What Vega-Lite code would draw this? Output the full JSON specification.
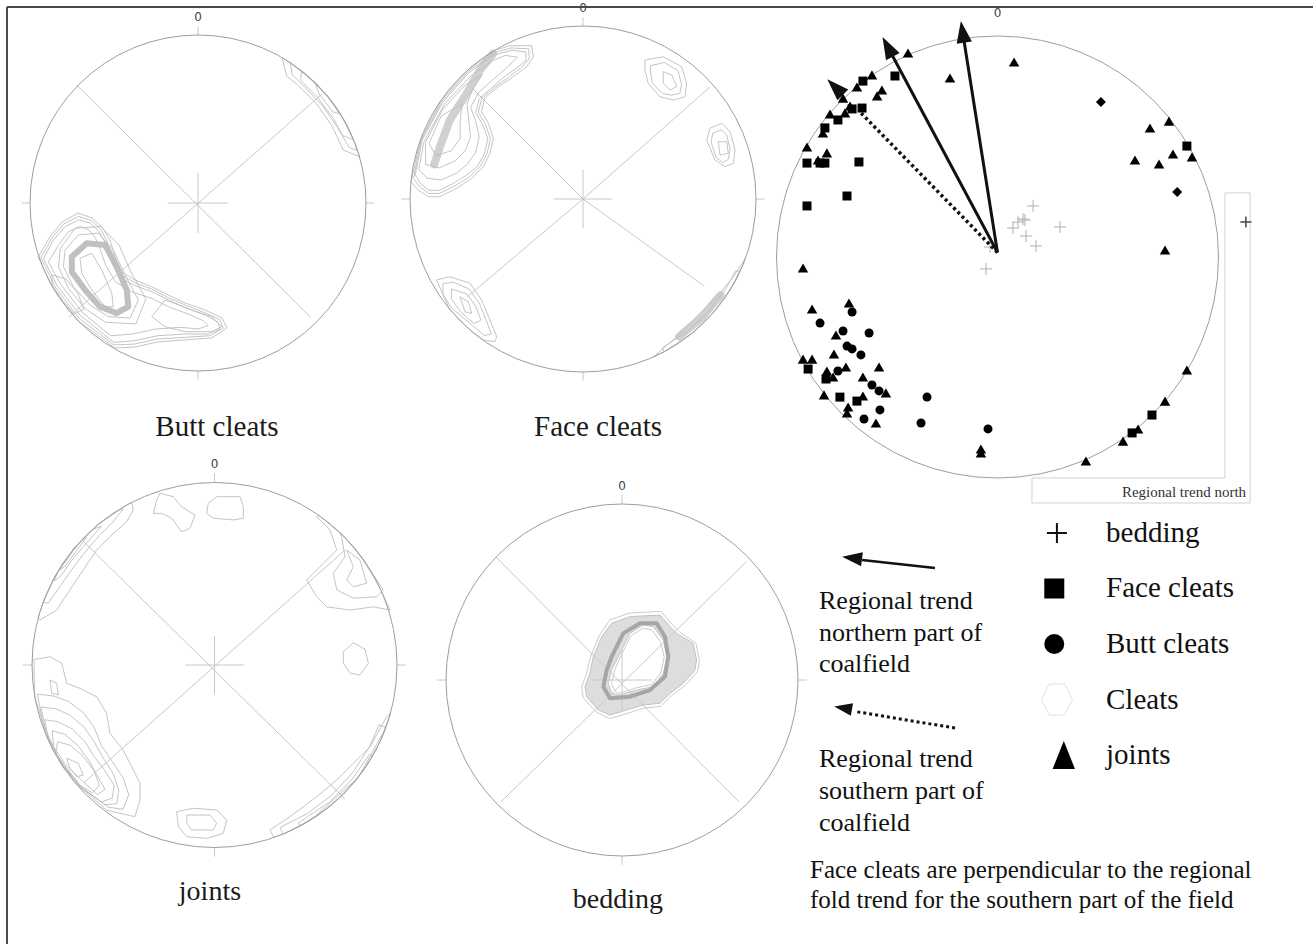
{
"$schema": "https://vega.github.io/schema/vega-lite/v6.json",
"padding": 0,
"background": "#ffffff",
"columns": 3,
"spacing": 0,
"bounds": "flush",
"align": "each",
"config": {"view": {"stroke": null}},
"datasets": {
"contours": [
{"panel":"butt","style":"band","c":"b0","x":[-75.1,-66.2,-55.3,-48.4,-42.4,-41.5,-48.4,-58.3,-67.2,-75.1,-75.1],"y":[-32,-24,-25,-37.9,-51.8,-61.7,-65.6,-61.7,-51.8,-40.9,-32]},
{"panel":"butt","style":"thin","c":"b1","x":[-95.2,-88.1,-80.9,-71.4,-63.1,-57.1,-52.4,-49.4,-45.2,-37.5,-27.4,-17.9,-7.7,4.2,14.3,17.3,8.3,-7.7,-23.8,-37.5,-49.4,-71.4,-86.3,-95.2],"y":[-32.1,-20.2,-11.3,-6,-8.9,-14.3,-22,-32.1,-41.1,-45.8,-50,-54.7,-59.5,-63.7,-68.4,-74.4,-80.3,-81.5,-82.7,-85.7,-86.3,-70.2,-50.6,-32.1]},
{"panel":"butt","style":"thin","c":"b12","x":[-93.5,-87,-80,-71,-63.5,-58,-54,-51,-46,-37.5,-27,-17.5,-7,4.5,13,15,7,-8,-24,-38,-50,-71,-85,-93.5],"y":[-32.5,-21,-12.5,-8,-10.5,-15.5,-23,-33,-42.5,-47.5,-51.5,-56.5,-61,-65.5,-69.5,-74.5,-79,-80,-81,-84,-84.5,-68.5,-50,-32.5]},
{"panel":"butt","style":"thin","c":"b2","x":[-92,-86,-79,-71,-64,-59,-55,-52,-47,-38,-27,-17,-6,5,12,13,6,-8,-24,-38,-50,-70,-84,-92],"y":[-33,-22,-14,-10,-12,-17,-24,-34,-44,-49,-53,-58,-63,-67,-71,-75,-78,-78,-79,-82,-83,-67,-49,-33]},
{"panel":"butt","style":"thin","c":"b3","x":[-89,-83,-77,-70,-65,-61,-58,-55,-49,-39,-27,-17,-6,3,6,0,-10,-25,-39,-52,-69,-82,-89],"y":[-35,-25,-17,-14,-16,-21,-28,-37,-47,-53,-57,-62,-66,-70,-73,-75,-74,-75,-78,-79,-65,-48,-35]},
{"panel":"butt","style":"thin","c":"b11","x":[-82,-73,-58,-47,-40,-31,-37,-55,-67,-77,-83,-82],"y":[-27,-15,-14,-25,-41,-57,-72,-71,-63,-51,-38,-27]},
{"panel":"butt","style":"thin","c":"b4","x":[-79.1,-71.2,-59.3,-50.4,-43.4,-35.5,-40.5,-53.4,-64.3,-74.2,-80.1,-79.1],"y":[-28,-19,-18,-28,-42.8,-57.7,-68.6,-67.6,-60.7,-49.8,-37.9,-28]},
{"panel":"butt","style":"thin","c":"b5","x":[-70.2,-63.2,-57.3,-51.3,-50.4,-55.3,-63.2,-69.2,-70.2],"y":[-32.9,-29.9,-39.9,-53.7,-61.7,-61.7,-51.8,-41.8,-32.9]},
{"panel":"butt","style":"thin","c":"b6","x":[-86.9,-78.5,-71.4,-67.8,-73.8,-80.9,-86.9,-86.9],"y":[-42.8,-45.2,-54.1,-63.1,-66,-57.7,-48.8,-42.8]},
{"panel":"butt","style":"thin","c":"b7","x":[-19.6,-3.7,8.2,14.1,8.2,-7.7,-19.6,-27.5,-19.6],"y":[-57.7,-63.7,-67.7,-73.6,-76.6,-76.6,-73.6,-67.7,-57.7]},
{"panel":"butt","style":"thin","c":"b8","x":[50,64.3,76.6,86.6,94,96.1,86.5,79.7,70.5,59.1,52.8,50],"y":[86.6,76.6,64.3,50,34.2,27.6,31.5,46,59.1,70.5,75.4,86.6]},
{"panel":"butt","style":"thin","c":"b13","x":[55,70,82,90,95,90,83,74,64,56,55],"y":[83.5,71.4,57.4,43.6,31.2,33,45,58,68.5,76.5,83.5]},
{"panel":"butt","style":"thin","c":"b9","x":[61.6,76.6,86.6,92.7,86.1,80.6,70.6,61.1,61.6],"y":[78.8,64.3,50,37.5,40.1,50.3,63.6,72.8,78.8]},
{"panel":"butt","style":"thin","c":"b10","x":[69.5,78.8,84.8,80.4,72.1,69.5],"y":[71.9,61.6,53,54.2,64.9,71.9]},

{"panel":"face","style":"band","c":"f0","x":[-52,-59.5,-67.2,-76.9,-82.7,-86],"y":[84,74.6,61.1,45.7,30.2,20]},
{"panel":"face","style":"band","c":"f0b","x":[55.6,68.6,79.5],"y":[-79.5,-68.6,-55.6]},
{"panel":"face","style":"thin","c":"f1","x":[-42.2,-29.7,-28.7,-32.5,-40.3,-49,-56.9,-58.6,-54.7,-51.8,-53.8,-57.6,-64.3,-73,-82.7,-89.4,-95.2,-99.4,-94,-82,-66.6,-50.8,-42.2],"y":[88.6,88.6,82.2,76.5,70.7,64.9,58.3,50.5,43.8,35.1,26.4,18.7,12,6.2,1.3,1.3,5.2,9.8,34.1,57.2,74.6,86.1,88.6]},
{"panel":"face","style":"thin","c":"f18","x":[-41.5,-31.5,-31,-35.5,-42.5,-50.5,-58.5,-60.5,-56.5,-53.5,-55.5,-59.5,-65.5,-74,-83,-89,-94.5,-98,-93.5,-81.5,-66.3,-51.4,-41.5],"y":[87.3,86.8,81,76.2,70.8,65,58.2,50.2,43.4,35,26.2,18.8,13,7.6,3.2,3.2,7.1,11.9,34,56.6,73.8,84.5,87.3]},
{"panel":"face","style":"thin","c":"f2","x":[-41,-33,-33,-38,-45,-52,-60,-62,-58,-55,-57,-61,-67,-75,-83,-89,-94,-97,-93,-81,-66,-52,-41],"y":[86,85,80,76,71,65,58,50,43,35,26,19,14,9,5,5,9,14,34,56,73,83,86]},
{"panel":"face","style":"thin","c":"f3","x":[-45,-38,-44,-52,-60,-65,-62,-60,-62,-67,-73,-82,-90,-95,-92,-80,-65,-52,-45],"y":[83,82,76,69,62,53,45,36,27,20,15,11,12,17,33,55,71,80,83]},
{"panel":"face","style":"thin","c":"f4","x":[-58,-64,-67,-66,-65,-68,-74,-83,-91,-91,-81,-68,-58],"y":[72,63,55,45,36,28,22,18,20,33,52,66,72]},
{"panel":"face","style":"thin","c":"f5","x":[-70,-71,-71,-76,-85,-89,-82,-70],"y":[55,45,35,28,25,32,48,55]},
{"panel":"face","style":"thin","c":"f6","x":[35.8,46.4,57,59.9,59,52.2,44.5,37.7,35.8,35.8],"y":[80.3,82.2,76.5,66.9,59.1,57.2,59.1,66.9,74.6,80.3]},
{"panel":"face","style":"thin","c":"f7","x":[39,47,55,57,56,51,46,40,39,39],"y":[77,79,74,66,61,60,61,67,74,77]},
{"panel":"face","style":"thin","c":"f8","x":[46.4,51.3,54.2,50.3,46.4,46.4],"y":[73.6,71.7,64.9,63,66.9,73.6]},
{"panel":"face","style":"thin","c":"f9","x":[73.4,80.2,85,87.9,86.9,82.1,76.3,71.5,73.4],"y":[40.9,43.8,38.9,28.3,20.6,18.7,22.5,34.1,40.9]},
{"panel":"face","style":"thin","c":"f10","x":[75,80,83,85,84,81,77,74,75],"y":[38,40,37,29,23,21,24,33,38]},
{"panel":"face","style":"thin","c":"f11","x":[78.2,83.1,84,79.2,78.2],"y":[33.1,33.1,26.4,25.4,33.1]},
{"panel":"face","style":"thin","c":"f12","x":[-84.6,-76.9,-65.3,-58.6,-53.8,-49.9,-50.9,-57.6,-65.3,-77.2,-84.6],"y":[-46.8,-44.9,-48.7,-58.4,-69.9,-79.6,-82.5,-81.5,-75.7,-63.6,-46.8]},
{"panel":"face","style":"thin","c":"f13","x":[-81,-75,-66,-60,-56,-53,-57,-64,-76,-81,-81],"y":[-49,-48,-52,-60,-70,-78,-79,-73,-63,-55,-49]},
{"panel":"face","style":"thin","c":"f14","x":[-76,-67,-62,-59,-63,-70,-76,-76],"y":[-52,-55,-62,-70,-72,-66,-58,-52]},
{"panel":"face","style":"thin","c":"f15","x":[-71.1,-66.3,-64.3,-68.2,-71.1],"y":[-56.5,-59.4,-66.1,-65.2,-56.5]},
{"panel":"face","style":"thin","c":"f16","x":[40.7,54.1,67.6,79.2,86.9,94,86.6,76.6,64.3,50,40.7],"y":[-91.4,-79.6,-66.1,-54.5,-44.9,-34.2,-50,-64.3,-76.6,-86.6,-91.4]},
{"panel":"face","style":"thin","c":"f17","x":[45.8,60,72.5,82.7,88.4,90.6,84.8,74.3,61.6,46.9,45.8],"y":[-86.1,-76.8,-65.2,-51.7,-41.2,-42.3,-53,-66.9,-78.8,-88.3,-86.1]},

{"panel":"joints","style":"thin","c":"j1","x":[-31.7,-29.9,-22.6,-18,-10.7,-13.4,-18,-23.5,-28.9,-33.5,-31.7],"y":[90.4,94.1,92.2,86.7,82.2,74.9,73,80.4,83.1,83.1,90.4]},
{"panel":"joints","style":"thin","c":"j2","x":[-3.4,1.2,14,15.8,15.8,10.3,-0.7,-4.3,-3.4],"y":[88.6,92.2,92.2,86.7,80.4,79.5,80.4,83.1,88.6]},
{"panel":"joints","style":"thin","c":"j3","x":[-45.4,-44.5,-48.1,-57.3,-64.6,-71.9,-79.2,-86.5,-95.6,-96.6,-94,-86.6,-76.6,-64.3,-50,-45.4],"y":[89.1,84.9,78.5,70.3,63,52.1,41.1,30.1,24.7,25.9,34.2,50,64.3,76.6,86.6,89.1]},
{"panel":"joints","style":"thin","c":"j4","x":[-50,-56,-63,-70,-77,-84,-91,-94,-86.6,-76.6,-64.3,-52,-50],"y":[85.5,78,71,63,54,44,34,34.2,50,64.3,76.6,85,85.5]},
{"panel":"joints","style":"thin","c":"j5","x":[-62,-69,-77,-84,-88,-84.8,-76.6,-66.9,-62],"y":[76,68,59,49,46,53,64.3,74.3,76]},
{"panel":"joints","style":"thin","c":"j6","x":[-70,-76,-82,-85,-80,-74,-70],"y":[70,62,54,52,59,67,70]},
{"panel":"joints","style":"thin","c":"j7","x":[56,63.3,67,57.8,50.5,56,61.5,74.3,87,96.2,90.6,81.9,70.7,57.4,56],"y":[81.3,74,63,53.9,46.6,37.4,31.9,30.1,31.9,30.1,42.3,57.4,70.7,81.9,81.3]},
{"panel":"joints","style":"thin","c":"j8","x":[69.7,71.5,65.1,67,76.1,88.9,92.5,86.6,76.6,68.2,69.7],"y":[70.3,59.3,50.3,41.1,36.6,37.4,41.1,50,64.3,73.1,70.3]},
{"panel":"joints","style":"thin","c":"j9","x":[72.4,76.1,72.4,76.1,83.4,79.7,72.4],"y":[63,53.9,46.6,42.9,44.8,57.5,63]},
{"panel":"joints","style":"thin","c":"j10","x":[70.6,76.1,82.5,84.3,79.7,74.3,70.6,70.6],"y":[7.3,12.2,8.6,0.9,-5.5,-4.5,0.9,7.3]},
{"panel":"joints","style":"thin","c":"j11","x":[-99,-90.1,-83.7,-81,-73.7,-64.6,-59.1,-57.3,-50,-44.5,-40.8,-40.8,-43.6,-51.8,-59.1,-76.6,-90.6,-98.5,-99],"y":[3,4.5,1,-10,-12.8,-17.4,-26.5,-37.4,-46.6,-57.5,-64.9,-74,-83.1,-81.3,-79.5,-64.3,-42.3,-17.4,3]},
{"panel":"joints","style":"thin","c":"j12","x":[-97,-88,-80,-72,-66,-62,-56,-50,-47,-50,-58,-72,-86,-94,-97],"y":[-16,-17,-20,-26,-34,-44,-53,-62,-71,-79,-78,-68,-50,-32,-16]},
{"panel":"joints","style":"thin","c":"j23","x":[-95,-87,-79,-71.5,-66,-61,-55.5,-52.5,-53.5,-60,-72.5,-85,-92.5,-95],"y":[-23,-24,-27.5,-34,-42,-51,-59.5,-68.5,-76,-76.5,-67.5,-52,-36.5,-23]},
{"panel":"joints","style":"thin","c":"j13","x":[-93,-86,-78,-71,-66,-60,-55,-56,-62,-73,-84,-91,-93],"y":[-30,-31,-35,-42,-50,-58,-66,-73,-75,-67,-54,-41,-30]},
{"panel":"joints","style":"thin","c":"j14","x":[-89,-82,-75,-69,-64,-60,-64,-72,-82,-88,-89],"y":[-36,-38,-44,-52,-61,-68,-71,-64,-54,-45,-36]},
{"panel":"joints","style":"thin","c":"j15","x":[-86,-79,-72,-66,-63,-67,-75,-83,-87,-86],"y":[-42,-44,-50,-58,-66,-70,-65,-56,-48,-42]},
{"panel":"joints","style":"thin","c":"j16","x":[-81,-74.6,-71.9,-75.5,-79.2,-81],"y":[-51.1,-53.9,-60.3,-61.2,-56.6,-51.1]},
{"panel":"joints","style":"thin","c":"j17","x":[-90.1,-86.5,-85.6,-89.2,-90.1],"y":[-8.2,-10,-16.4,-15.5,-8.2]},
{"panel":"joints","style":"thin","c":"j18","x":[-20.7,-11.6,1.2,6.7,4.8,-4.3,-15.2,-19.8,-20.7],"y":[-80.4,-78.5,-79.5,-84.9,-92.2,-95,-94.1,-88.6,-80.4]},
{"panel":"joints","style":"thin","c":"j19","x":[-15.2,-2.5,1.2,-0.7,-12.5,-15.2,-15.2],"y":[-82.2,-82.2,-86.7,-90.4,-90.4,-86.7,-82.2]},
{"panel":"joints","style":"thin","c":"j20","x":[30.4,41.4,56,67,76.1,85.2,94.4,96.6,90.6,81.9,70.7,57.4,42.3,32.6,30.4],"y":[-90.4,-83.1,-72.2,-63,-53.9,-44.8,-28.3,-25.9,-42.3,-57.4,-70.7,-81.9,-90.6,-94.5,-90.4]},
{"panel":"joints","style":"thin","c":"j21","x":[36,50.9,64.2,75.6,84.8,90.2,94,78.8,53,37.5,36],"y":[-89,-81.4,-71.3,-59.1,-45.1,-32.8,-34.2,-61.6,-84.8,-92.7,-89]},
{"panel":"joints","style":"thin","c":"j22","x":[46,63,75.1,84.9,86.6,76.6,64.3,46.9,46],"y":[-86.5,-75.1,-63,-49,-50,-64.3,-76.6,-88.3,-86.5]},

{"panel":"bedding","style":"fill","c":"e0","x":[-11.5,-5.9,4.5,21.6,27.3,31.1,40.5,42.4,41.5,34.8,27.3,21.6,12.1,2.7,-6.8,-13.5,-20.1,-21,-18.2,-16.3,-11.5],"y":[24.6,32.2,36,36.9,30.3,26.5,20.8,11.4,5.7,-1.9,-7.6,-13.2,-14.2,-17,-19.9,-17,-9.5,-3.8,3.8,13.2,24.6]},
{"panel":"bedding","style":"hole","c":"e1","x":[-5.9,-7.8,-5.9,-1.1,8.3,17.8,23.5,25.4,23.5,17.8,12.1,4.5,-2.1,-5.9],"y":[5.7,-1.9,-7.6,-8.5,-5.7,-3.8,3.8,13.2,22.7,30.3,31.2,26.5,13.2,5.7]},
{"panel":"bedding","style":"thin","c":"e2","x":[-13,-7,4,22,29,33,42,44,43,36,28,22,12,3,-7,-15,-22,-23,-20,-18,-13],"y":[25,34,38,39,31,27,21,11,5,-3,-9,-15,-16,-19,-22,-18,-10,-4,4,13,25]},
{"panel":"bedding","style":"thin","c":"e3","x":[-4,-6,-4,-1,8,17,22,24,22,17,12,5,-1,-4],"y":[6,-2,-6.5,-7.5,-4.5,-2.5,4,13,21.5,28.5,29.5,25,13,6]},
{"panel":"bedding","style":"darkband","c":"e4","x":[-5.9,0.7,10.2,19.7,24.4,26.3,24.4,15.9,4.5,-6.8,-10.6,-8.7,-5.9],"y":[13.2,26.5,32.2,32.2,24.6,13.2,1.9,-5.7,-9.5,-10.4,-3.8,5.7,13.2]},

{"panel":"combined","style":"box","c":"box","x":[102.9,114.3,114.3,15.6,15.6,102.9,102.9],"y":[29,29,-111.3,-111.3,-100,-100,29]}
],
"frames": [
{"panel":"butt","x":0,"y":100,"x2":0,"y2":105},{"panel":"butt","x":0,"y":-100,"x2":0,"y2":-105},{"panel":"butt","x":100,"y":0,"x2":105,"y2":0},{"panel":"butt","x":-100,"y":0,"x2":-105,"y2":0},
{"panel":"butt","x":-18,"y":0,"x2":18,"y2":0},{"panel":"butt","x":0,"y":-18,"x2":0,"y2":18},{"panel":"butt","x":-72,"y":70,"x2":67,"y2":-68},{"panel":"butt","x":74,"y":65,"x2":-77,"y2":-68},
{"panel":"face","x":0,"y":100,"x2":0,"y2":105},{"panel":"face","x":0,"y":-100,"x2":0,"y2":-105},{"panel":"face","x":100,"y":0,"x2":105,"y2":0},{"panel":"face","x":-100,"y":0,"x2":-105,"y2":0},
{"panel":"face","x":-17,"y":0,"x2":17,"y2":0},{"panel":"face","x":0,"y":-17,"x2":0,"y2":17},{"panel":"face","x":-65.3,"y":65.3,"x2":0,"y2":0},{"panel":"face","x":0,"y":0,"x2":70,"y2":-50.3},{"panel":"face","x":73.4,"y":64.7,"x2":0,"y2":0},{"panel":"face","x":0,"y":0,"x2":-67,"y2":-56.6},
{"panel":"joints","x":0,"y":100,"x2":0,"y2":105},{"panel":"joints","x":0,"y":-100,"x2":0,"y2":-105},{"panel":"joints","x":100,"y":0,"x2":105,"y2":0},{"panel":"joints","x":-100,"y":0,"x2":-105,"y2":0},
{"panel":"joints","x":-16,"y":0,"x2":16,"y2":0},{"panel":"joints","x":0,"y":-16,"x2":0,"y2":16},{"panel":"joints","x":-72.6,"y":68.5,"x2":71.5,"y2":-73.4},{"panel":"joints","x":71.5,"y":63,"x2":-71.5,"y2":-64.4},
{"panel":"bedding","x":0,"y":100,"x2":0,"y2":105},{"panel":"bedding","x":0,"y":-100,"x2":0,"y2":-105},{"panel":"bedding","x":100,"y":0,"x2":105,"y2":0},{"panel":"bedding","x":-100,"y":0,"x2":-105,"y2":0},
{"panel":"bedding","x":-17,"y":0,"x2":17,"y2":0},{"panel":"bedding","x":0,"y":-17,"x2":0,"y2":17},{"panel":"bedding","x":-71.6,"y":69.9,"x2":66.5,"y2":-69.3},{"panel":"bedding","x":70.5,"y":67,"x2":-68.8,"y2":-69.3},
{"panel":"border","x":-113.7,"y":116.7,"x2":663.7,"y2":116.7},{"panel":"border","x":-113.7,"y":116.7,"x2":-113.7,"y2":-441}
],
"combined": [
{"k":"joints","x":-40.5,"y":92.3},{"k":"joints","x":-56.8,"y":82.4},{"k":"joints","x":-63.6,"y":76.9},{"k":"joints","x":-21.5,"y":81},{"k":"joints","x":7.5,"y":88.2},{"k":"joints","x":-52.3,"y":75.6},{"k":"joints","x":-54.5,"y":72.9},{"k":"joints","x":-69.9,"y":71.9},{"k":"joints","x":-66.7,"y":68.3},{"k":"joints","x":-69,"y":65.2},{"k":"joints","x":-75.8,"y":64.7},{"k":"joints","x":-79,"y":56.1},{"k":"joints","x":-86.2,"y":49.8},{"k":"joints","x":-77.2,"y":47.1},{"k":"joints","x":-81.2,"y":43.9},{"k":"joints","x":77.6,"y":61.5},{"k":"joints","x":69,"y":58.4},{"k":"joints","x":79.4,"y":46.6},{"k":"joints","x":88,"y":45.3},{"k":"joints","x":62.2,"y":43.9},{"k":"joints","x":73.1,"y":42.1},{"k":"joints","x":75.8,"y":3.2},{"k":"joints","x":-88,"y":-5},{"k":"joints","x":-83.9,"y":-23.5},{"k":"joints","x":-67.2,"y":-20.8},{"k":"joints","x":-73.1,"y":-35.3},{"k":"joints","x":-74,"y":-43.9},{"k":"joints","x":-88,"y":-46.2},{"k":"joints","x":-83.9,"y":-46.2},{"k":"joints","x":-77.2,"y":-51.6},{"k":"joints","x":-68.6,"y":-49.8},{"k":"joints","x":-53.6,"y":-49.8},{"k":"joints","x":-60.9,"y":-54.3},{"k":"joints","x":-74.4,"y":-54.3},{"k":"joints","x":-50.5,"y":-61.5},{"k":"joints","x":-78.5,"y":-62.4},{"k":"joints","x":-60.9,"y":-62.9},{"k":"joints","x":-67.6,"y":-67.9},{"k":"joints","x":-68.1,"y":-70.6},{"k":"joints","x":-55,"y":-75.1},{"k":"joints","x":-7.5,"y":-86.9},{"k":"joints","x":-7.5,"y":-88.7},{"k":"joints","x":40,"y":-92.3},{"k":"joints","x":56.8,"y":-83.3},{"k":"joints","x":63.6,"y":-77.8},{"k":"joints","x":75.8,"y":-65.2},{"k":"joints","x":85.7,"y":-51.1},
{"k":"Face cleats","x":-60.9,"y":79.6},{"k":"Face cleats","x":-46.4,"y":81.9},{"k":"Face cleats","x":-61.3,"y":67.4},{"k":"Face cleats","x":-65.8,"y":67},{"k":"Face cleats","x":-72.2,"y":62},{"k":"Face cleats","x":-78.1,"y":58.4},{"k":"Face cleats","x":-86.2,"y":42.5},{"k":"Face cleats","x":-80.3,"y":42.5},{"k":"Face cleats","x":-78.1,"y":42.5},{"k":"Face cleats","x":-62.7,"y":43},{"k":"Face cleats","x":-68.1,"y":27.6},{"k":"Face cleats","x":-86.2,"y":23.1},{"k":"Face cleats","x":85.7,"y":50.2},{"k":"Face cleats","x":-85.7,"y":-50.7},{"k":"Face cleats","x":-77.6,"y":-55.2},{"k":"Face cleats","x":-71.3,"y":-63.4},{"k":"Face cleats","x":-63.6,"y":-65.2},{"k":"Face cleats","x":60.9,"y":-79.6},{"k":"Face cleats","x":69.9,"y":-71.5},
{"k":"Butt cleats","x":-65.8,"y":-24.9},{"k":"Butt cleats","x":-80.3,"y":-29.9},{"k":"Butt cleats","x":-69.9,"y":-33.5},{"k":"Butt cleats","x":-58.1,"y":-34.4},{"k":"Butt cleats","x":-68.1,"y":-40.3},{"k":"Butt cleats","x":-65.8,"y":-41.6},{"k":"Butt cleats","x":-61.8,"y":-44.3},{"k":"Butt cleats","x":-72.2,"y":-51.6},{"k":"Butt cleats","x":-56.8,"y":-57.9},{"k":"Butt cleats","x":-53.6,"y":-60.6},{"k":"Butt cleats","x":-31.9,"y":-63.4},{"k":"Butt cleats","x":-53.2,"y":-69.2},{"k":"Butt cleats","x":-60.4,"y":-73.3},{"k":"Butt cleats","x":-34.6,"y":-75.1},{"k":"Butt cleats","x":-4.3,"y":-77.8},
{"k":"other","x":46.8,"y":70.1},{"k":"other","x":81.3,"y":29.4},
{"k":"bedding","x":16.1,"y":23.1},{"k":"bedding","x":11.5,"y":17.2},{"k":"bedding","x":9.3,"y":15.8},{"k":"bedding","x":12.4,"y":16.7},{"k":"bedding","x":7,"y":13.1},{"k":"bedding","x":28.3,"y":13.6},{"k":"bedding","x":12.9,"y":9.5},{"k":"bedding","x":17.4,"y":5},{"k":"bedding","x":-3.4,"y":4.5},{"k":"bedding","x":-5.2,"y":-5.4}
],
"trends": [
{"name":"northern trend a","dash":"solid","x":0,"y":2,"x2":-15.8,"y2":101.9,"hx":-15.8,"hy":101.9,"trend":351},
{"name":"northern trend b","dash":"solid","x":0,"y":2,"x2":-49.7,"y2":95.1,"hx":-49.7,"hy":95.1,"trend":332},
{"name":"southern trend","dash":"dotted","x":0,"y":2,"x2":-62.2,"y2":65.6,"hx":-73.5,"hy":76.9,"trend":315}
],
"legendItems": [
{"item":"bedding","rank":1},
{"item":"Face cleats","rank":2},
{"item":"Butt cleats","rank":3},
{"item":"Cleats","rank":4},
{"item":"joints","rank":5}
]
},
"concat": [
{
"width": 410, "height": 460,
"layer": [
{"data": {"name": "contours"}, "transform": [{"filter": "datum.panel == 'butt' && datum.style == 'band'"}, {"flatten": ["x", "y"]}], "mark": {"type": "line", "color": "#c0c0c0", "strokeWidth": 6, "strokeJoin": "round", "strokeCap": "round"}, "encoding": {"x": {"field": "x", "type": "quantitative", "scale": {"domain": [-117.857, 126.19], "nice": false, "zero": false}, "axis": null}, "y": {"field": "y", "type": "quantitative", "scale": {"domain": [-152.976, 120.833], "nice": false, "zero": false}, "axis": null}, "detail": {"field": "c", "type": "nominal"}, "order": {"value": null}}},
{"data": {"name": "contours"}, "transform": [{"filter": "datum.panel == 'butt' && datum.style == 'thin'"}, {"flatten": ["x", "y"]}], "mark": {"type": "line", "color": "#bdbdbd", "strokeWidth": 0.9}, "encoding": {"x": {"field": "x", "type": "quantitative", "scale": {"domain": [-117.857, 126.19], "nice": false, "zero": false}, "axis": null}, "y": {"field": "y", "type": "quantitative", "scale": {"domain": [-152.976, 120.833], "nice": false, "zero": false}, "axis": null}, "detail": {"field": "c", "type": "nominal"}, "order": {"value": null}}},
{"data": {"name": "frames"}, "transform": [{"filter": "datum.panel == 'butt'"}], "mark": {"type": "rule", "color": "#c8c8c8", "strokeWidth": 1}, "encoding": {"x": {"field": "x", "type": "quantitative", "scale": {"domain": [-117.857, 126.19], "nice": false, "zero": false}, "axis": null}, "y": {"field": "y", "type": "quantitative", "scale": {"domain": [-152.976, 120.833], "nice": false, "zero": false}, "axis": null}, "x2": {"field": "x2"}, "y2": {"field": "y2"}}},
{"data": {"values": [{"net": "primitive"}]}, "mark": {"type": "point", "shape": "circle", "filled": false, "stroke": "#9e9e9e", "strokeWidth": 1, "opacity": 1}, "encoding": {"x": {"datum": 0, "type": "quantitative", "scale": {"domain": [-117.857, 126.19], "nice": false, "zero": false}, "axis": null}, "y": {"datum": 0, "type": "quantitative", "scale": {"domain": [-152.976, 120.833], "nice": false, "zero": false}, "axis": null}, "size": {"value": 112896}}},
{"data": {"values": [{"label": "0"}]}, "mark": {"type": "text", "font": "DejaVu Sans", "fontSize": 12, "color": "#444444", "baseline": "middle", "align": "center"}, "encoding": {"x": {"datum": 0, "type": "quantitative", "scale": {"domain": [-117.857, 126.19], "nice": false, "zero": false}, "axis": null}, "y": {"datum": 110.5, "type": "quantitative", "scale": {"domain": [-152.976, 120.833], "nice": false, "zero": false}, "axis": null}, "text": {"field": "label"}}},
{"data": {"values": [{"label": "Butt cleats"}]}, "mark": {"type": "text", "font": "Liberation Serif", "fontSize": 29, "color": "#1a1a1a", "baseline": "alphabetic", "align": "center"}, "encoding": {"x": {"datum": 11.3, "type": "quantitative", "scale": {"domain": [-117.857, 126.19], "nice": false, "zero": false}, "axis": null}, "y": {"datum": -138.7, "type": "quantitative", "scale": {"domain": [-152.976, 120.833], "nice": false, "zero": false}, "axis": null}, "text": {"field": "label"}}},
{"data": {"name": "frames"}, "transform": [{"filter": "datum.panel == 'border'"}], "mark": {"type": "rule", "color": "#4a4a4a", "strokeWidth": 2}, "encoding": {"x": {"field": "x", "type": "quantitative", "scale": {"domain": [-117.857, 126.19], "nice": false, "zero": false}, "axis": null}, "y": {"field": "y", "type": "quantitative", "scale": {"domain": [-152.976, 120.833], "nice": false, "zero": false}, "axis": null}, "x2": {"field": "x2"}, "y2": {"field": "y2"}}}
]
},
{
"width": 375, "height": 460,
"layer": [
{"data": {"name": "contours"}, "transform": [{"filter": "datum.panel == 'face' && datum.style == 'band'"}, {"flatten": ["x", "y"]}], "mark": {"type": "line", "color": "#d0d0d0", "strokeWidth": 8, "strokeJoin": "round", "strokeCap": "round"}, "encoding": {"x": {"field": "x", "type": "quantitative", "scale": {"domain": [-100, 116.763], "nice": false, "zero": false}, "axis": null}, "y": {"field": "y", "type": "quantitative", "scale": {"domain": [-150.867, 115.029], "nice": false, "zero": false}, "axis": null}, "detail": {"field": "c", "type": "nominal"}, "order": {"value": null}}},
{"data": {"name": "contours"}, "transform": [{"filter": "datum.panel == 'face' && datum.style == 'thin'"}, {"flatten": ["x", "y"]}], "mark": {"type": "line", "color": "#bdbdbd", "strokeWidth": 0.9}, "encoding": {"x": {"field": "x", "type": "quantitative", "scale": {"domain": [-100, 116.763], "nice": false, "zero": false}, "axis": null}, "y": {"field": "y", "type": "quantitative", "scale": {"domain": [-150.867, 115.029], "nice": false, "zero": false}, "axis": null}, "detail": {"field": "c", "type": "nominal"}, "order": {"value": null}}},
{"data": {"name": "frames"}, "transform": [{"filter": "datum.panel == 'face'"}], "mark": {"type": "rule", "color": "#c8c8c8", "strokeWidth": 1}, "encoding": {"x": {"field": "x", "type": "quantitative", "scale": {"domain": [-100, 116.763], "nice": false, "zero": false}, "axis": null}, "y": {"field": "y", "type": "quantitative", "scale": {"domain": [-150.867, 115.029], "nice": false, "zero": false}, "axis": null}, "x2": {"field": "x2"}, "y2": {"field": "y2"}}},
{"data": {"values": [{"net": "primitive"}]}, "mark": {"type": "point", "shape": "circle", "filled": false, "stroke": "#9e9e9e", "strokeWidth": 1, "opacity": 1}, "encoding": {"x": {"datum": 0, "type": "quantitative", "scale": {"domain": [-100, 116.763], "nice": false, "zero": false}, "axis": null}, "y": {"datum": 0, "type": "quantitative", "scale": {"domain": [-150.867, 115.029], "nice": false, "zero": false}, "axis": null}, "size": {"value": 119716}}},
{"data": {"values": [{"label": "0"}]}, "mark": {"type": "text", "font": "DejaVu Sans", "fontSize": 12, "color": "#444444", "baseline": "middle", "align": "center"}, "encoding": {"x": {"datum": 0, "type": "quantitative", "scale": {"domain": [-100, 116.763], "nice": false, "zero": false}, "axis": null}, "y": {"datum": 110.5, "type": "quantitative", "scale": {"domain": [-150.867, 115.029], "nice": false, "zero": false}, "axis": null}, "text": {"field": "label"}}},
{"data": {"values": [{"label": "Face cleats"}]}, "mark": {"type": "text", "font": "Liberation Serif", "fontSize": 29, "color": "#1a1a1a", "baseline": "alphabetic", "align": "center"}, "encoding": {"x": {"datum": 8.7, "type": "quantitative", "scale": {"domain": [-100, 116.763], "nice": false, "zero": false}, "axis": null}, "y": {"datum": -137, "type": "quantitative", "scale": {"domain": [-150.867, 115.029], "nice": false, "zero": false}, "axis": null}, "text": {"field": "label"}}}
]
},
{
"width": 528, "height": 460,
"layer": [
{"data": {"name": "contours"}, "transform": [{"filter": "datum.panel == 'combined' && datum.style == 'box'"}, {"flatten": ["x", "y"]}], "mark": {"type": "line", "color": "#d2d2d2", "strokeWidth": 1}, "encoding": {"x": {"field": "x", "type": "quantitative", "scale": {"domain": [-96.154, 142.76], "nice": false, "zero": false}, "axis": null}, "y": {"field": "y", "type": "quantitative", "scale": {"domain": [-91.855, 116.29], "nice": false, "zero": false}, "axis": null}, "detail": {"field": "c", "type": "nominal"}, "order": {"value": null}}},
{"data": {"values": [{"label": "Regional trend north"}]}, "mark": {"type": "text", "font": "Liberation Serif", "fontSize": 15, "color": "#333333", "baseline": "alphabetic", "align": "left"}, "encoding": {"x": {"datum": 56.3, "type": "quantitative", "scale": {"domain": [-96.154, 142.76], "nice": false, "zero": false}, "axis": null}, "y": {"datum": -108.6, "type": "quantitative", "scale": {"domain": [-91.855, 116.29], "nice": false, "zero": false}, "axis": null}, "text": {"field": "label"}}},
{"data": {"values": [{"item": "bedding"}]}, "mark": {"type": "point", "shape": "M-1,0H1M0,-1V1", "filled": false, "stroke": "#444444", "strokeWidth": 1.5, "size": 121, "opacity": 1}, "encoding": {"x": {"datum": 112.4, "type": "quantitative", "scale": {"domain": [-96.154, 142.76], "nice": false, "zero": false}, "axis": null}, "y": {"datum": 15.8, "type": "quantitative", "scale": {"domain": [-91.855, 116.29], "nice": false, "zero": false}, "axis": null}}},
{"data": {"values": [{"net": "primitive"}]}, "mark": {"type": "point", "shape": "circle", "filled": false, "stroke": "#9e9e9e", "strokeWidth": 1, "opacity": 1}, "encoding": {"x": {"datum": 0, "type": "quantitative", "scale": {"domain": [-96.154, 142.76], "nice": false, "zero": false}, "axis": null}, "y": {"datum": 0, "type": "quantitative", "scale": {"domain": [-91.855, 116.29], "nice": false, "zero": false}, "axis": null}, "size": {"value": 195364}}},
{"data": {"values": [{"label": "0"}]}, "mark": {"type": "text", "font": "DejaVu Sans", "fontSize": 12, "color": "#444444", "baseline": "middle", "align": "center"}, "encoding": {"x": {"datum": 0, "type": "quantitative", "scale": {"domain": [-96.154, 142.76], "nice": false, "zero": false}, "axis": null}, "y": {"datum": 110.5, "type": "quantitative", "scale": {"domain": [-91.855, 116.29], "nice": false, "zero": false}, "axis": null}, "text": {"field": "label"}}},
{"data": {"name": "combined"}, "transform": [{"filter": "datum.k == 'bedding'"}], "mark": {"type": "point", "shape": "M-1,0H1M0,-1V1", "filled": false, "stroke": "#b0b0b0", "strokeWidth": 1, "size": 144, "opacity": 1}, "encoding": {"x": {"field": "x", "type": "quantitative", "scale": {"domain": [-96.154, 142.76], "nice": false, "zero": false}, "axis": null}, "y": {"field": "y", "type": "quantitative", "scale": {"domain": [-91.855, 116.29], "nice": false, "zero": false}, "axis": null}}},
{"data": {"name": "trends"}, "transform": [{"filter": "datum.dash == 'solid'"}], "mark": {"type": "rule", "color": "#111111", "strokeWidth": 3}, "encoding": {"x": {"field": "x", "type": "quantitative", "scale": {"domain": [-96.154, 142.76], "nice": false, "zero": false}, "axis": null}, "y": {"field": "y", "type": "quantitative", "scale": {"domain": [-91.855, 116.29], "nice": false, "zero": false}, "axis": null}, "x2": {"field": "x2"}, "y2": {"field": "y2"}}},
{"data": {"name": "trends"}, "transform": [{"filter": "datum.dash == 'dotted'"}], "mark": {"type": "rule", "color": "#111111", "strokeWidth": 3.5, "strokeDash": [3, 3]}, "encoding": {"x": {"field": "x", "type": "quantitative", "scale": {"domain": [-96.154, 142.76], "nice": false, "zero": false}, "axis": null}, "y": {"field": "y", "type": "quantitative", "scale": {"domain": [-91.855, 116.29], "nice": false, "zero": false}, "axis": null}, "x2": {"field": "x2"}, "y2": {"field": "y2"}}},
{"data": {"name": "trends"}, "mark": {"type": "point", "shape": "M0,-1L0.7,1L-0.7,1Z", "filled": true, "color": "#111111", "size": 484, "opacity": 1}, "encoding": {"x": {"field": "hx", "type": "quantitative", "scale": {"domain": [-96.154, 142.76], "nice": false, "zero": false}, "axis": null}, "y": {"field": "hy", "type": "quantitative", "scale": {"domain": [-91.855, 116.29], "nice": false, "zero": false}, "axis": null}, "angle": {"field": "trend", "type": "quantitative", "scale": null}}},
{"data": {"name": "combined"}, "transform": [{"filter": "datum.k == 'Face cleats'"}], "mark": {"type": "point", "shape": "square", "filled": true, "color": "#000000", "size": 81, "opacity": 1}, "encoding": {"x": {"field": "x", "type": "quantitative", "scale": {"domain": [-96.154, 142.76], "nice": false, "zero": false}, "axis": null}, "y": {"field": "y", "type": "quantitative", "scale": {"domain": [-91.855, 116.29], "nice": false, "zero": false}, "axis": null}}},
{"data": {"name": "combined"}, "transform": [{"filter": "datum.k == 'Butt cleats'"}], "mark": {"type": "point", "shape": "circle", "filled": true, "color": "#000000", "size": 81, "opacity": 1}, "encoding": {"x": {"field": "x", "type": "quantitative", "scale": {"domain": [-96.154, 142.76], "nice": false, "zero": false}, "axis": null}, "y": {"field": "y", "type": "quantitative", "scale": {"domain": [-91.855, 116.29], "nice": false, "zero": false}, "axis": null}}},
{"data": {"name": "combined"}, "transform": [{"filter": "datum.k == 'joints'"}], "mark": {"type": "point", "shape": "triangle-up", "filled": true, "color": "#000000", "size": 110, "opacity": 1}, "encoding": {"x": {"field": "x", "type": "quantitative", "scale": {"domain": [-96.154, 142.76], "nice": false, "zero": false}, "axis": null}, "y": {"field": "y", "type": "quantitative", "scale": {"domain": [-91.855, 116.29], "nice": false, "zero": false}, "axis": null}}},
{"data": {"name": "combined"}, "transform": [{"filter": "datum.k == 'other'"}], "mark": {"type": "point", "shape": "diamond", "filled": true, "color": "#000000", "size": 100, "opacity": 1}, "encoding": {"x": {"field": "x", "type": "quantitative", "scale": {"domain": [-96.154, 142.76], "nice": false, "zero": false}, "axis": null}, "y": {"field": "y", "type": "quantitative", "scale": {"domain": [-91.855, 116.29], "nice": false, "zero": false}, "axis": null}}}
]
},
{
"width": 410, "height": 484,
"layer": [
{"data": {"name": "contours"}, "transform": [{"filter": "datum.panel == 'joints' && datum.style == 'thin'"}, {"flatten": ["x", "y"]}], "mark": {"type": "line", "color": "#bdbdbd", "strokeWidth": 0.9}, "encoding": {"x": {"field": "x", "type": "quantitative", "scale": {"domain": [-117.534, 107.123], "nice": false, "zero": false}, "axis": null}, "y": {"field": "y", "type": "quantitative", "scale": {"domain": [-152.877, 112.329], "nice": false, "zero": false}, "axis": null}, "detail": {"field": "c", "type": "nominal"}, "order": {"value": null}}},
{"data": {"name": "frames"}, "transform": [{"filter": "datum.panel == 'joints'"}], "mark": {"type": "rule", "color": "#c8c8c8", "strokeWidth": 1}, "encoding": {"x": {"field": "x", "type": "quantitative", "scale": {"domain": [-117.534, 107.123], "nice": false, "zero": false}, "axis": null}, "y": {"field": "y", "type": "quantitative", "scale": {"domain": [-152.877, 112.329], "nice": false, "zero": false}, "axis": null}, "x2": {"field": "x2"}, "y2": {"field": "y2"}}},
{"data": {"values": [{"net": "primitive"}]}, "mark": {"type": "point", "shape": "circle", "filled": false, "stroke": "#9e9e9e", "strokeWidth": 1, "opacity": 1}, "encoding": {"x": {"datum": 0, "type": "quantitative", "scale": {"domain": [-117.534, 107.123], "nice": false, "zero": false}, "axis": null}, "y": {"datum": 0, "type": "quantitative", "scale": {"domain": [-152.877, 112.329], "nice": false, "zero": false}, "axis": null}, "size": {"value": 133225}}},
{"data": {"values": [{"label": "0"}]}, "mark": {"type": "text", "font": "DejaVu Sans", "fontSize": 12, "color": "#444444", "baseline": "middle", "align": "center"}, "encoding": {"x": {"datum": 0, "type": "quantitative", "scale": {"domain": [-117.534, 107.123], "nice": false, "zero": false}, "axis": null}, "y": {"datum": 110, "type": "quantitative", "scale": {"domain": [-152.877, 112.329], "nice": false, "zero": false}, "axis": null}, "text": {"field": "label"}}},
{"data": {"values": [{"label": "joints"}]}, "mark": {"type": "text", "font": "Liberation Serif", "fontSize": 28, "color": "#1a1a1a", "baseline": "alphabetic", "align": "center"}, "encoding": {"x": {"datum": -2.5, "type": "quantitative", "scale": {"domain": [-117.534, 107.123], "nice": false, "zero": false}, "axis": null}, "y": {"datum": -128.8, "type": "quantitative", "scale": {"domain": [-152.877, 112.329], "nice": false, "zero": false}, "axis": null}, "text": {"field": "label"}}}
]
},
{
"width": 375, "height": 484,
"layer": [
{"data": {"name": "contours"}, "transform": [{"filter": "datum.panel == 'bedding' && datum.style == 'fill'"}, {"flatten": ["x", "y"]}], "mark": {"type": "line", "color": "#c2c2c2", "fill": "#dddddd", "strokeWidth": 1}, "encoding": {"x": {"field": "x", "type": "quantitative", "scale": {"domain": [-120.455, 92.614], "nice": false, "zero": false}, "axis": null}, "y": {"field": "y", "type": "quantitative", "scale": {"domain": [-150, 125], "nice": false, "zero": false}, "axis": null}, "detail": {"field": "c", "type": "nominal"}, "order": {"value": null}}},
{"data": {"name": "contours"}, "transform": [{"filter": "datum.panel == 'bedding' && datum.style == 'hole'"}, {"flatten": ["x", "y"]}], "mark": {"type": "line", "color": "#c6c6c6", "fill": "#ffffff", "strokeWidth": 1}, "encoding": {"x": {"field": "x", "type": "quantitative", "scale": {"domain": [-120.455, 92.614], "nice": false, "zero": false}, "axis": null}, "y": {"field": "y", "type": "quantitative", "scale": {"domain": [-150, 125], "nice": false, "zero": false}, "axis": null}, "detail": {"field": "c", "type": "nominal"}, "order": {"value": null}}},
{"data": {"name": "frames"}, "transform": [{"filter": "datum.panel == 'bedding'"}], "mark": {"type": "rule", "color": "#c8c8c8", "strokeWidth": 1}, "encoding": {"x": {"field": "x", "type": "quantitative", "scale": {"domain": [-120.455, 92.614], "nice": false, "zero": false}, "axis": null}, "y": {"field": "y", "type": "quantitative", "scale": {"domain": [-150, 125], "nice": false, "zero": false}, "axis": null}, "x2": {"field": "x2"}, "y2": {"field": "y2"}}},
{"data": {"name": "contours"}, "transform": [{"filter": "datum.panel == 'bedding' && datum.style == 'thin'"}, {"flatten": ["x", "y"]}], "mark": {"type": "line", "color": "#c4c4c4", "strokeWidth": 0.9}, "encoding": {"x": {"field": "x", "type": "quantitative", "scale": {"domain": [-120.455, 92.614], "nice": false, "zero": false}, "axis": null}, "y": {"field": "y", "type": "quantitative", "scale": {"domain": [-150, 125], "nice": false, "zero": false}, "axis": null}, "detail": {"field": "c", "type": "nominal"}, "order": {"value": null}}},
{"data": {"name": "contours"}, "transform": [{"filter": "datum.panel == 'bedding' && datum.style == 'darkband'"}, {"flatten": ["x", "y"]}], "mark": {"type": "line", "color": "#a6a6a6", "strokeWidth": 4, "strokeJoin": "round"}, "encoding": {"x": {"field": "x", "type": "quantitative", "scale": {"domain": [-120.455, 92.614], "nice": false, "zero": false}, "axis": null}, "y": {"field": "y", "type": "quantitative", "scale": {"domain": [-150, 125], "nice": false, "zero": false}, "axis": null}, "detail": {"field": "c", "type": "nominal"}, "order": {"value": null}}},
{"data": {"values": [{"net": "primitive"}]}, "mark": {"type": "point", "shape": "circle", "filled": false, "stroke": "#9e9e9e", "strokeWidth": 1, "opacity": 1}, "encoding": {"x": {"datum": 0, "type": "quantitative", "scale": {"domain": [-120.455, 92.614], "nice": false, "zero": false}, "axis": null}, "y": {"datum": 0, "type": "quantitative", "scale": {"domain": [-150, 125], "nice": false, "zero": false}, "axis": null}, "size": {"value": 123904}}},
{"data": {"values": [{"label": "0"}]}, "mark": {"type": "text", "font": "DejaVu Sans", "fontSize": 12, "color": "#444444", "baseline": "middle", "align": "center"}, "encoding": {"x": {"datum": 0, "type": "quantitative", "scale": {"domain": [-120.455, 92.614], "nice": false, "zero": false}, "axis": null}, "y": {"datum": 110.2, "type": "quantitative", "scale": {"domain": [-150, 125], "nice": false, "zero": false}, "axis": null}, "text": {"field": "label"}}},
{"data": {"values": [{"label": "bedding"}]}, "mark": {"type": "text", "font": "Liberation Serif", "fontSize": 28, "color": "#1a1a1a", "baseline": "alphabetic", "align": "center"}, "encoding": {"x": {"datum": -2.3, "type": "quantitative", "scale": {"domain": [-120.455, 92.614], "nice": false, "zero": false}, "axis": null}, "y": {"datum": -129.5, "type": "quantitative", "scale": {"domain": [-150, 125], "nice": false, "zero": false}, "axis": null}, "text": {"field": "label"}}}
]
},
{
"width": 528, "height": 484,
"layer": [
{"data": {"values": [{"arrow": "northern"}]}, "mark": {"type": "rule", "color": "#111111", "strokeWidth": 2.5}, "encoding": {"x": {"datum": 28.4, "type": "quantitative", "scale": {"domain": [0, 100], "nice": false, "zero": false}, "axis": null}, "y": {"datum": 1.631, "type": "quantitative", "scale": {"domain": [-0.315, 8.405], "reverse": true, "nice": false, "zero": false}, "axis": null}, "x2": {"datum": 14.6}, "y2": {"datum": 1.487}}},
{"data": {"values": [{"arrow": "northern", "trend": 277}]}, "mark": {"type": "point", "shape": "M0,-1L0.7,1L-0.7,1Z", "filled": true, "color": "#111111", "size": 400, "opacity": 1}, "encoding": {"x": {"datum": 12.7, "type": "quantitative", "scale": {"domain": [0, 100], "nice": false, "zero": false}, "axis": null}, "y": {"datum": 1.451, "type": "quantitative", "scale": {"domain": [-0.315, 8.405], "reverse": true, "nice": false, "zero": false}, "axis": null}, "angle": {"field": "trend", "type": "quantitative", "scale": null}}},
{"data": {"values": [{"arrow": "southern"}]}, "mark": {"type": "rule", "color": "#111111", "strokeWidth": 3, "strokeDash": [3, 3]}, "encoding": {"x": {"datum": 32.2, "type": "quantitative", "scale": {"domain": [0, 100], "nice": false, "zero": false}, "axis": null}, "y": {"datum": 4.514, "type": "quantitative", "scale": {"domain": [-0.315, 8.405], "reverse": true, "nice": false, "zero": false}, "axis": null}, "x2": {"datum": 13.2}, "y2": {"datum": 4.215}}},
{"data": {"values": [{"arrow": "southern", "trend": 280}]}, "mark": {"type": "point", "shape": "M0,-1L0.7,1L-0.7,1Z", "filled": true, "color": "#111111", "size": 324, "opacity": 1}, "encoding": {"x": {"datum": 11.0, "type": "quantitative", "scale": {"domain": [0, 100], "nice": false, "zero": false}, "axis": null}, "y": {"datum": 4.153, "type": "quantitative", "scale": {"domain": [-0.315, 8.405], "reverse": true, "nice": false, "zero": false}, "axis": null}, "angle": {"field": "trend", "type": "quantitative", "scale": null}}},
{"data": {"name": "legendItems"}, "transform": [{"filter": "datum.item == 'bedding'"}], "mark": {"type": "point", "shape": "M-1,0H1M0,-1V1", "filled": false, "stroke": "#111111", "strokeWidth": 2, "size": 400, "opacity": 1}, "encoding": {"x": {"datum": 51.5, "type": "quantitative", "scale": {"domain": [0, 100], "nice": false, "zero": false}, "axis": null}, "y": {"field": "rank", "type": "quantitative", "scale": {"domain": [-0.315, 8.405], "reverse": true, "nice": false, "zero": false}, "axis": null}}},
{"data": {"name": "legendItems"}, "transform": [{"filter": "datum.item == 'Face cleats'"}], "mark": {"type": "point", "shape": "square", "filled": true, "color": "#000000", "size": 400, "opacity": 1}, "encoding": {"x": {"datum": 51, "type": "quantitative", "scale": {"domain": [0, 100], "nice": false, "zero": false}, "axis": null}, "y": {"field": "rank", "type": "quantitative", "scale": {"domain": [-0.315, 8.405], "reverse": true, "nice": false, "zero": false}, "axis": null}}},
{"data": {"name": "legendItems"}, "transform": [{"filter": "datum.item == 'Butt cleats'"}], "mark": {"type": "point", "shape": "circle", "filled": true, "color": "#000000", "size": 400, "opacity": 1}, "encoding": {"x": {"datum": 51, "type": "quantitative", "scale": {"domain": [0, 100], "nice": false, "zero": false}, "axis": null}, "y": {"field": "rank", "type": "quantitative", "scale": {"domain": [-0.315, 8.405], "reverse": true, "nice": false, "zero": false}, "axis": null}}},
{"data": {"name": "legendItems"}, "transform": [{"filter": "datum.item == 'Cleats'"}], "mark": {"type": "point", "shape": "M-1,0L-0.5,-1L0.5,-1L1,0L0.5,1L-0.5,1Z", "filled": false, "stroke": "#e2e2e2", "strokeWidth": 1, "size": 961, "opacity": 1}, "encoding": {"x": {"datum": 51.5, "type": "quantitative", "scale": {"domain": [0, 100], "nice": false, "zero": false}, "axis": null}, "y": {"field": "rank", "type": "quantitative", "scale": {"domain": [-0.315, 8.405], "reverse": true, "nice": false, "zero": false}, "axis": null}}},
{"data": {"name": "legendItems"}, "transform": [{"filter": "datum.item == 'joints'"}], "mark": {"type": "point", "shape": "M0,-1L0.8,1L-0.8,1Z", "filled": true, "color": "#000000", "size": 784, "opacity": 1}, "encoding": {"x": {"datum": 52.8, "type": "quantitative", "scale": {"domain": [0, 100], "nice": false, "zero": false}, "axis": null}, "y": {"field": "rank", "type": "quantitative", "scale": {"domain": [-0.315, 8.405], "reverse": true, "nice": false, "zero": false}, "axis": null}}},
{"data": {"name": "legendItems"}, "mark": {"type": "text", "font": "Liberation Serif", "fontSize": 29, "color": "#111111", "baseline": "middle", "align": "left"}, "encoding": {"x": {"datum": 60.8, "type": "quantitative", "scale": {"domain": [0, 100], "nice": false, "zero": false}, "axis": null}, "y": {"field": "rank", "type": "quantitative", "scale": {"domain": [-0.315, 8.405], "reverse": true, "nice": false, "zero": false}, "axis": null}, "text": {"field": "item"}}},
{"data": {"values": [{"note": "Regional trend\nnorthern part of\ncoalfield"}]}, "mark": {"type": "text", "font": "Liberation Serif", "fontSize": 26, "color": "#111111", "baseline": "alphabetic", "align": "left", "lineBreak": "\n", "lineHeight": 31.5}, "encoding": {"x": {"datum": 6.44, "type": "quantitative", "scale": {"domain": [0, 100], "nice": false, "zero": false}, "axis": null}, "y": {"datum": 2.37, "type": "quantitative", "scale": {"domain": [-0.315, 8.405], "reverse": true, "nice": false, "zero": false}, "axis": null}, "text": {"field": "note"}}},
{"data": {"values": [{"note": "Regional trend\nsouthern part of\ncoalfield"}]}, "mark": {"type": "text", "font": "Liberation Serif", "fontSize": 26, "color": "#111111", "baseline": "alphabetic", "align": "left", "lineBreak": "\n", "lineHeight": 32}, "encoding": {"x": {"datum": 6.44, "type": "quantitative", "scale": {"domain": [0, 100], "nice": false, "zero": false}, "axis": null}, "y": {"datum": 5.217, "type": "quantitative", "scale": {"domain": [-0.315, 8.405], "reverse": true, "nice": false, "zero": false}, "axis": null}, "text": {"field": "note"}}},
{"data": {"values": [{"note": "Face cleats are perpendicular to the regional\nfold trend for the southern part of the field"}]}, "mark": {"type": "text", "font": "Liberation Serif", "fontSize": 25, "color": "#111111", "baseline": "alphabetic", "align": "left", "lineBreak": "\n", "lineHeight": 30}, "encoding": {"x": {"datum": 4.73, "type": "quantitative", "scale": {"domain": [0, 100], "nice": false, "zero": false}, "axis": null}, "y": {"datum": 7.216, "type": "quantitative", "scale": {"domain": [-0.315, 8.405], "reverse": true, "nice": false, "zero": false}, "axis": null}, "text": {"field": "note"}}}
]
}
]
}
